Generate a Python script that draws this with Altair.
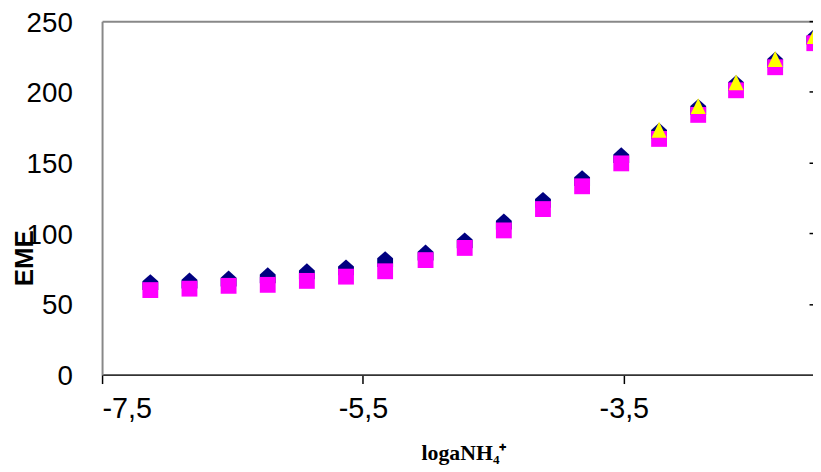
import altair as alt
import pandas as pd

# ---- data ----
x_vals = [-7.13, -6.83, -6.53, -6.23, -5.93, -5.63, -5.33, -5.02, -4.72,
          -4.42, -4.12, -3.82, -3.52, -3.23, -2.93, -2.64, -2.34, -2.04]
eme_navy = [65.4, 66.6, 68.0, 70.3, 73.1, 75.9, 81.7, 86.4, 95.0,
            108.3, 123.6, 139.0, 155.2, 172.5, 189.4, 206.2, 222.7, 239.0]
eme_magenta = [59.8, 60.8, 62.8, 63.5, 66.3, 69.3, 73.1, 81.0, 89.6,
               102.0, 117.1, 133.2, 149.4, 166.7, 183.7, 201.1, 217.4, 234.4]
x_yellow = [-3.23, -2.93, -2.64, -2.34, -2.04]
eme_yellow = [173.2, 189.9, 206.7, 223.2, 239.5]

x_ticks = [-7.5, -5.5, -3.5]
y_ticks = [0, 50, 100, 150, 200, 250]
right_ticks = [50, 100, 150, 200, 250]

x_domain = [-7.5, -2.05]
y_domain = [0, 250]

HOUSE = "M0,-1L1,-0.1L1,1L-1,1L-1,-0.1Z"
TRI = "M0,-1L0.95,1L-0.95,1Z"
SANS = "Liberation Sans"
SERIF = "Liberation Serif"

df_navy = pd.DataFrame({"x": x_vals, "y": eme_navy})
df_mag = pd.DataFrame({"x": x_vals, "y": eme_magenta})
df_yel = pd.DataFrame({"x": x_yellow, "y": eme_yellow})

xs = alt.Scale(domain=x_domain, nice=False, zero=False)
ys = alt.Scale(domain=y_domain, nice=False, zero=False)

navy = alt.Chart(df_navy).mark_point(
    shape=HOUSE, filled=True, size=256, color="#000080", opacity=1, strokeWidth=0
).encode(
    x=alt.X("x:Q", scale=xs, axis=alt.Axis(
        orient="bottom", values=x_ticks, grid=False,
        labelExpr="replace(toString(datum.value), '.', ',')",
        labelFont=SANS, labelFontSize=29, labelColor="#000000",
        labelPadding=11, tickSize=9, tickColor="#000000", tickWidth=1.5,
        domainColor="#333333", domainWidth=2,
        title="logaNH\u2084\u207a", titleFont=SERIF, titleFontSize=22,
        titleFontWeight="bold", titleColor="#000000",
        titleX=365, titleY=86, titleAlign="center", titleBaseline="alphabetic",
    )),
    y=alt.Y("y:Q", scale=ys, axis=alt.Axis(
        orient="left", values=y_ticks, grid=False, ticks=False, tickSize=0,
        labelFont=SANS, labelFontSize=28, labelColor="#000000", labelPadding=30,
        labelOffset=2,
        domainColor="#888888", domainWidth=2,
        title="EME", titleFont=SANS, titleFontSize=26, titleFontWeight="bold",
        titleColor="#000000", titleAngle=270, titleX=-78, titleY=239,
        titleAlign="center", titleBaseline="middle",
    )),
)

squares = alt.Chart(df_mag).mark_point(
    shape="square", filled=True, size=256, color="#FF00FF", opacity=1, strokeWidth=0
).encode(
    x=alt.X("x:Q", scale=xs, axis=alt.Axis(
        orient="top", labels=False, ticks=False, grid=False, title="",
        domainColor="#888888", domainWidth=2,
    )),
    y=alt.Y("y:Q", scale=ys, axis=alt.Axis(
        orient="right", labels=False, domain=False, grid=False, title="",
        values=right_ticks, tickSize=4, tickColor="#000000", tickWidth=1.5,
        offset=-4,
    )),
)

yellow = alt.Chart(df_yel).mark_point(
    shape=TRI, filled=True, size=256, color="#FFFF00", opacity=1, strokeWidth=0
).encode(
    x=alt.X("x:Q", scale=xs, axis=None),
    y=alt.Y("y:Q", scale=ys, axis=None),
)

chart = alt.layer(navy, squares, yellow).resolve_scale(
    x="independent", y="independent"
).properties(
    width=718, height=357,
    padding={"left": 95, "top": 11, "right": 0, "bottom": 90},
    autosize=alt.AutoSizeParams(type="none"),
    background="#FFFFFF",
).configure_view(stroke=None)

chart.save("out.html", embed_options={"renderer": "svg", "actions": False})
